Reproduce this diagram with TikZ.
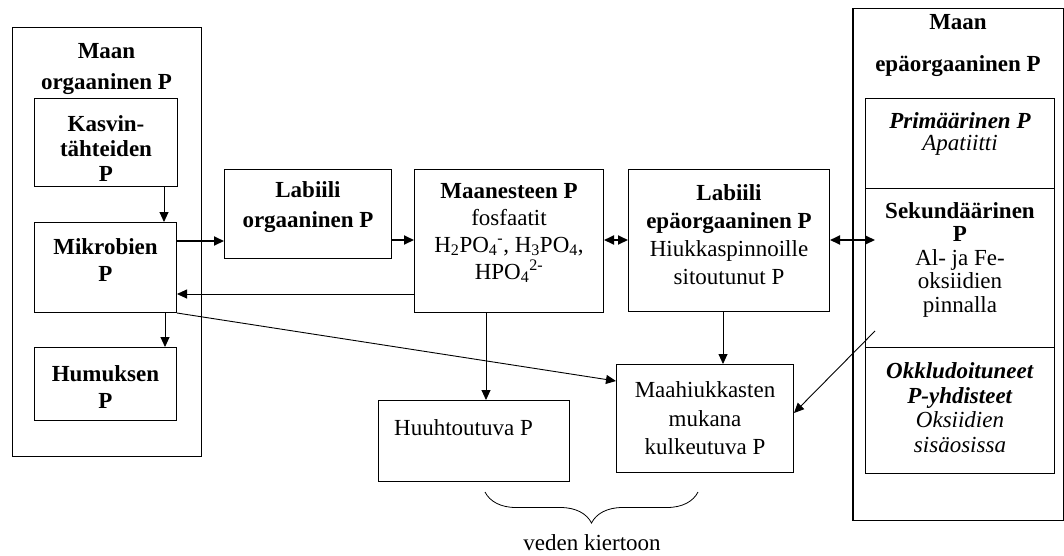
\documentclass[tikz,border=0pt]{standalone}
\usepackage{fontspec}
\setmainfont{Liberation Serif}
\usetikzlibrary{arrows.meta,decorations.pathreplacing}
\newcommand{\fsize}[1]{\fontsize{23}{#1}\selectfont}
\tikzset{
  laatikko/.style={draw, line width=1pt, align=center, inner sep=0pt, anchor=north west, font=\fsize{27}},
  rivi/.style={font=\fsize{#1}},
  otsikko/.style={align=center, inner sep=0pt, font=\fsize{31}\bfseries},
  nuoli/.style={line width=0.9pt, -{Triangle[length=10pt,width=9pt]}},
  paksu/.style={line width=1.8pt, -{Triangle[length=10pt,width=9pt]}},
  kaksi/.style={line width=1.8pt, {Triangle[length=10pt,width=9pt]}-{Triangle[length=10pt,width=9pt]}}
}
\begin{document}
\begin{tikzpicture}[x=1pt,y=-1pt]
      \useasboundingbox (0,0) rectangle (1064,555);
      \node[laatikko, minimum width=189pt, minimum height=429pt] (orgaan) at (12,26.6) {};
      \node[otsikko] (orgotsikko) at (106.5,69) {Maan\\orgaaninen P};
      \node[laatikko, rivi=25, minimum width=143pt, minimum height=88.5pt] (kasvin) at (34,97.5)
        {\rule{0pt}{29pt}\textbf{Kasvin-}\\\textbf{tähteiden}\\\textbf{P}};
      \node[laatikko, text depth=15pt, minimum width=142pt, minimum height=90pt] (mikrobien) at (34,222)
        {\textbf{Mikrobien}\\\textbf{P}};
      \node[laatikko, minimum width=142pt, minimum height=73pt] (humus) at (34,347)
        {\rule{0pt}{22pt}\textbf{Humuksen}\\\textbf{P}};
      \node[laatikko, rivi=30, text depth=18pt, minimum width=167pt, minimum height=89pt] (laborg) at (224,169)
        {\textbf{Labiili}\\\textbf{orgaaninen P}};
      \node[laatikko, text depth=20pt, minimum width=189pt, minimum height=143pt] (maanes) at (414,169)
        {\textbf{Maanesteen P}\\fosfaatit\\H\textsubscript{2}PO\textsubscript{4}\textsuperscript{-}, H\textsubscript{3}PO\textsubscript{4},\\HPO\textsubscript{4}\textsuperscript{2-}};
      \node[laatikko, rivi=28, text depth=11pt, minimum width=201pt, minimum height=142pt] (labepa) at (628,169)
        {\textbf{Labiili}\\\textbf{epäorgaaninen P}\\Hiukkaspinnoille\\sitoutunut P};
      \node[laatikko, minimum width=210pt, minimum height=512pt] (epaorg) at (853,8) {};
      \draw[line width=2.5pt] (epaorg.north west) -- (epaorg.south west);
      \node[otsikko, font=\fsize{27}\bfseries] (epaotsikko) at (958,46) {Maan\\[15pt]epäorgaaninen P};
      \node[laatikko, rivi=22, text depth=24pt, minimum width=189pt, minimum height=90pt] (prim) at (865,97.7)
        {\textbf{\textit{Primäärinen P}}\\\textit{Apatiitti}};
      \node[laatikko, rivi=23.5, text depth=21pt, minimum width=189pt, minimum height=159.5pt] (sek) at (865,187.6)
        {\textbf{Sekundäärinen}\\\textbf{P}\\Al- ja Fe-\\oksiidien\\pinnalla};
      \node[laatikko, rivi=24.5, text depth=5pt, minimum width=189pt, minimum height=125.5pt] (okk) at (865,347)
        {\textbf{\textit{Okkludoituneet}}\\\textbf{\textit{P-yhdisteet}}\\\textit{Oksiidien}\\\textit{sisäosissa}};
      \node[laatikko, text depth=27pt, minimum width=191pt, minimum height=81pt] (huuht) at (378,400)
        {Huuhtoutuva P\hspace*{21pt}};
      \node[laatikko, rivi=28.5, minimum width=177pt, minimum height=108pt] (maahiuk) at (616,364)
        {Maahiukkasten\\mukana\\kulkeutuva P};
      \node[font=\fsize{27}, inner sep=0pt] (veden) at (592,543) {veden kiertoon};
      \coordinate (sekin) at (875,240);
      \coordinate (sekpt) at (875,331);
      \coordinate (brvasen) at (485,492);
      \coordinate (broikea) at (698,492);
      \begin{scope}
        \draw[nuoli] (kasvin.south -| 164,0) to (mikrobien.north -| 164,0);
        \draw[nuoli] (mikrobien.south -| 165,0) to (humus.north -| 165,0);
        \draw[paksu] (mikrobien.east |- 0,241) to (laborg.west |- 0,241);
        \draw[paksu] (laborg.east |- 0,240) to (maanes.west |- 0,240);
        \draw[nuoli] (maanes.west |- 0,294) to (mikrobien.east |- 0,294);
        \draw[kaksi] (maanes.east |- 0,240) to (labepa.west |- 0,240);
        \draw[kaksi] (labepa.east |- 0,240) to (sekin);
        \draw[nuoli] (maanes.south -| 486,0) to (huuht.north -| 486,0);
        \draw[nuoli] (labepa.south -| 723,0) to (maahiuk.north -| 723,0);
        \draw[nuoli] (mikrobien.south east) to (maahiuk.west |- 0,381);
        \draw[nuoli] (sekpt) to (maahiuk.east |- 0,413);
      \end{scope}
      \draw[line width=0.8pt, decorate, decoration={brace, mirror, amplitude=31pt}] (brvasen) -- (broikea);
    \end{tikzpicture}
\end{document}
